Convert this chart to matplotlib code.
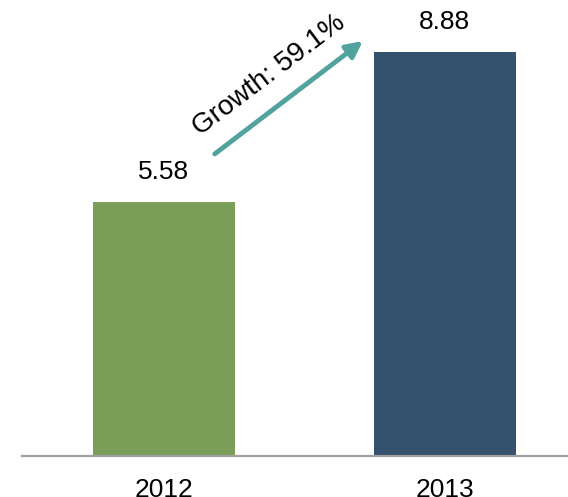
import matplotlib
matplotlib.use('Agg')
import matplotlib.pyplot as plt

# data
years = ['2012', '2013']
values = [5.58, 8.88]
growth_label = 'Growth: 59.1%'
bar_colors = ['#7a9d57', '#34516e']

plt.rcParams['font.family'] = ['Liberation Sans', 'DejaVu Sans']

fig = plt.figure(figsize=(5.68, 4.97), dpi=100)
ax = fig.add_axes([22 / 568, 1 - 456 / 497, 1 - 22 / 568, 456 / 497])

x = list(range(len(years)))
ax.bar(x, values, width=0.505, color=bar_colors, zorder=2)

# value labels above bars
for xi, v in zip(x, values):
    ax.annotate(f'{v:.2f}', (xi, v), xytext=(0, 13), textcoords='offset points',
                ha='center', va='bottom', fontsize=19)

# growth arrow + rotated label
ax.annotate('', xy=(0.708, 9.12), xytext=(0.181, 6.64),
            arrowprops=dict(arrowstyle='-|>', color='#52a29e', lw=3.5,
                            mutation_scale=24, shrinkA=0, shrinkB=0))
ax.text(0.375, 8.38, growth_label, rotation=37, rotation_mode='anchor',
        ha='center', va='center', fontsize=20)

ax.set_xlim(-0.505, 1.438)
ax.set_ylim(0, 456 / 45.5)
ax.set_xticks(x)
ax.set_xticklabels(years, fontsize=19)
ax.tick_params(axis='x', length=0, pad=16)
ax.set_yticks([])
for s in ['top', 'left', 'right']:
    ax.spines[s].set_visible(False)
ax.spines['bottom'].set_color('#a0a0a0')
ax.spines['bottom'].set_linewidth(1.6)

fig.savefig('out.png', dpi=100)
